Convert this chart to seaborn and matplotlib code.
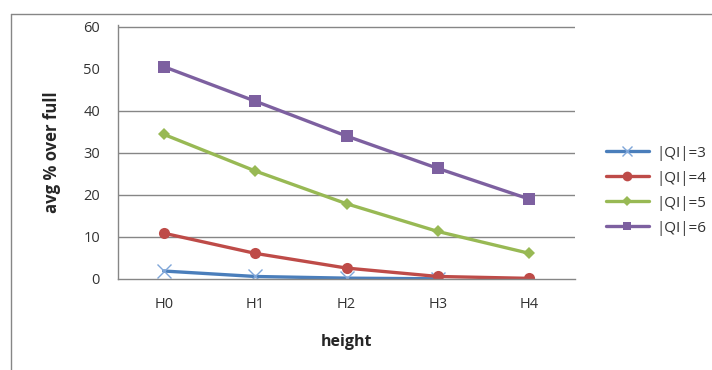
import numpy as np
import pandas as pd
import matplotlib
matplotlib.use("Agg")
import matplotlib.pyplot as plt
from matplotlib.lines import Line2D
import seaborn as sns

heights = ["H0", "H1", "H2", "H3", "H4"]
series_names = ["|QI|=3", "|QI|=4", "|QI|=5", "|QI|=6"]
qi3 = [1.9, 0.6, 0.2, 0.05, np.nan]
qi4 = [10.9, 6.1, 2.6, 0.6, 0.15]
qi5 = [34.4, 25.7, 17.9, 11.3, 6.1]
qi6 = [50.5, 42.3, 34.0, 26.3, 19.0]
y_ticks = [0, 10, 20, 30, 40, 50, 60]

colors = ["#4a7ebb", "#be4b48", "#98b954", "#7d60a0"]
markers = ["x", "o", "D", "s"]
msizes = [10, 8, 6.5, 8]
leg_msizes = [7, 7, 5.5, 6]

rows = []
for name, vals in zip(series_names, [qi3, qi4, qi5, qi6]):
    for i, (h, v) in enumerate(zip(heights, vals)):
        rows.append({"height": h, "pos": i, "value": v, "series": name})
df = pd.DataFrame(rows)

sns.set_theme(style="white")
plt.rcParams["font.family"] = ["Open Sans", "DejaVu Sans"]

fig = plt.figure(figsize=(7.12, 3.70), dpi=100)
ax = fig.add_axes([118 / 712, 1 - 279 / 370, (575 - 118) / 712, (279 - 25) / 370])

for name, c, m, ms in zip(series_names, colors, markers, msizes):
    sub = df[df["series"] == name].dropna()
    kw = dict(markeredgewidth=1.0, markeredgecolor="#7fa6d9") if m == "x" \
        else dict(markeredgewidth=0)
    sns.lineplot(data=sub, x="pos", y="value", color=c, marker=m, markersize=ms,
                 linewidth=2.4, ax=ax, legend=False, **kw)

ax.set_xlim(-0.5, len(heights) - 0.5)
ax.set_ylim(0, 60.4)
ax.set_xticks(range(len(heights)))
ax.set_xticklabels(heights)
ax.set_yticks(y_ticks)
ax.set_yticklabels([str(t) for t in y_ticks])

# horizontal gridlines (none at 0 and 50)
ax.set_axisbelow(True)
ax.yaxis.grid(True, color="#868686", linewidth=1.0)
for t, tick in zip(y_ticks, ax.yaxis.get_major_ticks()):
    if t in (0, 50):
        tick.gridline.set_visible(False)

for s in ["top", "right"]:
    ax.spines[s].set_visible(False)
for s in ["left", "bottom"]:
    ax.spines[s].set_color("#868686")
    ax.spines[s].set_linewidth(1.0)

# category boundary ticks on x axis
ax.tick_params(axis="x", which="major", length=0, pad=13, labelsize=10.5, colors="#333333")
ax.set_xticks(np.arange(-0.5, len(heights), 1.0), minor=True)
ax.tick_params(axis="x", which="minor", length=5, color="#868686", width=1, direction="out")
ax.tick_params(axis="y", length=6, color="#868686", width=1, direction="out",
               labelsize=10.5, labelcolor="#333333", pad=7)
# no tick mark at 50
ax.yaxis.get_major_ticks()[5].tick1line.set_visible(False)

ax.set_xlabel("height", fontsize=11.5, fontweight="bold", labelpad=16)
ax.set_ylabel("avg % over full", fontsize=12, fontweight="bold", labelpad=16)

handles = [Line2D([0], [0], color=c, marker=m, linewidth=2.4, markersize=ms,
                  markeredgewidth=(1.0 if m == "x" else 0),
                  markeredgecolor=("#7fa6d9" if m == "x" else c))
           for c, m, ms in zip(colors, markers, leg_msizes)]
leg = fig.legend(handles, series_names, loc="upper left",
                 bbox_to_anchor=(592 / 712, 1 - 132 / 370), frameon=False,
                 fontsize=11, handlelength=2.8, labelspacing=0.65, handletextpad=0.5)
for t in leg.get_texts():
    t.set_color("#333333")

# outer chart border (left and top edges)
fig.add_artist(Line2D([10.5 / 712, 10.5 / 712], [0, 1 - 14 / 370], transform=fig.transFigure,
                      color="#868686", linewidth=1.0))
fig.add_artist(Line2D([10.5 / 712, 1], [1 - 14 / 370, 1 - 14 / 370], transform=fig.transFigure,
                      color="#868686", linewidth=1.0))

fig.savefig("out.png", dpi=100, facecolor="white")
